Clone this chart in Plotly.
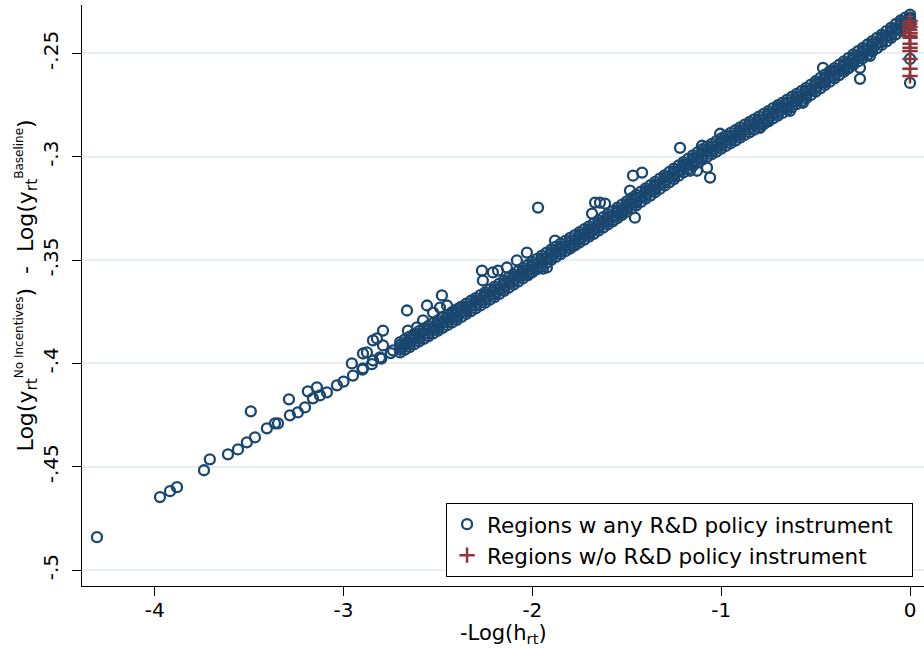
import plotly.graph_objects as go

# ---------------- data ----------------
# dense central band, centre row (grid A)
band_x_a = [-3.00, -2.95, -2.90, -2.85, -2.80, -2.75, -2.70, -2.65, -2.60, -2.55,
            -2.50, -2.45, -2.40, -2.35, -2.30, -2.25, -2.20, -2.15, -2.10, -2.05,
            -2.00, -1.95, -1.90, -1.85, -1.80, -1.75, -1.70, -1.65, -1.60, -1.55,
            -1.50, -1.45, -1.40, -1.35, -1.30, -1.25, -1.20, -1.15, -1.10, -1.05,
            -1.00, -0.95, -0.90, -0.85, -0.80, -0.75, -0.70, -0.65, -0.60, -0.55,
            -0.50, -0.45, -0.40, -0.35, -0.30, -0.25, -0.20, -0.15, -0.10, -0.05, 0.00]
band_y_a_mid = [-0.4088, -0.4059, -0.4030, -0.4004, -0.3977, -0.3950, -0.3922, -0.3896, -0.3869, -0.3843,
                -0.3817, -0.3790, -0.3764, -0.3736, -0.3709, -0.3681, -0.3654, -0.3624, -0.3594, -0.3564,
                -0.3534, -0.3504, -0.3474, -0.3446, -0.3418, -0.3390, -0.3362, -0.3333, -0.3303, -0.3272,
                -0.3241, -0.3210, -0.3178, -0.3147, -0.3115, -0.3083, -0.3051, -0.3019, -0.2989, -0.2963,
                -0.2936, -0.2910, -0.2883, -0.2857, -0.2831, -0.2804, -0.2776, -0.2749, -0.2721, -0.2692,
                -0.2660, -0.2628, -0.2596, -0.2564, -0.2530, -0.2498, -0.2466, -0.2434, -0.2400, -0.2366, -0.2338]

# dense band, edge and inner rows on grid A (from -2.70)
band_x_a2 = [-2.70, -2.65, -2.60, -2.55, -2.50, -2.45, -2.40, -2.35, -2.30, -2.25,
             -2.20, -2.15, -2.10, -2.05, -2.00, -1.95, -1.90, -1.85, -1.80, -1.75,
             -1.70, -1.65, -1.60, -1.55, -1.50, -1.45, -1.40, -1.35, -1.30, -1.25,
             -1.20, -1.15, -1.10, -1.05, -1.00, -0.95, -0.90, -0.85, -0.80, -0.75,
             -0.70, -0.65, -0.60, -0.55, -0.50, -0.45, -0.40, -0.35, -0.30, -0.25,
             -0.20, -0.15, -0.10, -0.05, 0.00]
band_y_a2_up = [-0.3897, -0.3871, -0.3844, -0.3818, -0.3792, -0.3765, -0.3739, -0.3711, -0.3684, -0.3656,
                -0.3629, -0.3599, -0.3569, -0.3539, -0.3509, -0.3479, -0.3449, -0.3421, -0.3393, -0.3365,
                -0.3337, -0.3308, -0.3278, -0.3247, -0.3216, -0.3185, -0.3153, -0.3122, -0.3090, -0.3058,
                -0.3026, -0.2994, -0.2964, -0.2938, -0.2911, -0.2885, -0.2858, -0.2832, -0.2806, -0.2779,
                -0.2751, -0.2724, -0.2696, -0.2667, -0.2635, -0.2603, -0.2571, -0.2539, -0.2505, -0.2473,
                -0.2441, -0.2409, -0.2375, -0.2341, -0.2313]
band_y_a2_lo = [-0.3947, -0.3921, -0.3894, -0.3868, -0.3842, -0.3815, -0.3789, -0.3761, -0.3734, -0.3706,
                -0.3679, -0.3649, -0.3619, -0.3589, -0.3559, -0.3529, -0.3499, -0.3471, -0.3443, -0.3415,
                -0.3387, -0.3358, -0.3328, -0.3297, -0.3266, -0.3235, -0.3203, -0.3172, -0.3140, -0.3108,
                -0.3076, -0.3044, -0.3014, -0.2988, -0.2961, -0.2935, -0.2908, -0.2882, -0.2856, -0.2829,
                -0.2801, -0.2774, -0.2746, -0.2717, -0.2685, -0.2653, -0.2621, -0.2589, -0.2555, -0.2523,
                -0.2491, -0.2459, -0.2425, -0.2391, -0.2363]
band_y_a2_in_up = [-0.3910, -0.3884, -0.3857, -0.3831, -0.3805, -0.3778, -0.3752, -0.3724, -0.3697, -0.3669,
                   -0.3642, -0.3612, -0.3582, -0.3552, -0.3522, -0.3492, -0.3462, -0.3434, -0.3406, -0.3378,
                   -0.3350, -0.3321, -0.3291, -0.3260, -0.3229, -0.3198, -0.3166, -0.3135, -0.3103, -0.3071,
                   -0.3039, -0.3007, -0.2977, -0.2951, -0.2924, -0.2898, -0.2871, -0.2845, -0.2819, -0.2792,
                   -0.2764, -0.2737, -0.2709, -0.2680, -0.2648, -0.2616, -0.2584, -0.2552, -0.2518, -0.2486,
                   -0.2454, -0.2422, -0.2388, -0.2354, -0.2326]
band_y_a2_in_lo = [-0.3934, -0.3908, -0.3881, -0.3855, -0.3829, -0.3802, -0.3776, -0.3748, -0.3721, -0.3693,
                   -0.3666, -0.3636, -0.3606, -0.3576, -0.3546, -0.3516, -0.3486, -0.3458, -0.3430, -0.3402,
                   -0.3374, -0.3345, -0.3315, -0.3284, -0.3253, -0.3222, -0.3190, -0.3159, -0.3127, -0.3095,
                   -0.3063, -0.3031, -0.3001, -0.2975, -0.2948, -0.2922, -0.2895, -0.2869, -0.2843, -0.2816,
                   -0.2788, -0.2761, -0.2733, -0.2704, -0.2672, -0.2640, -0.2608, -0.2576, -0.2542, -0.2510,
                   -0.2478, -0.2446, -0.2412, -0.2378, -0.2350]

# dense band on grid B (between grid A points): centre, upper, lower rows
band_x_b = [-2.675, -2.625, -2.575, -2.525, -2.475, -2.425, -2.375, -2.325, -2.275, -2.225,
            -2.175, -2.125, -2.075, -2.025, -1.975, -1.925, -1.875, -1.825, -1.775, -1.725,
            -1.675, -1.625, -1.575, -1.525, -1.475, -1.425, -1.375, -1.325, -1.275, -1.225,
            -1.175, -1.125, -1.075, -1.025, -0.975, -0.925, -0.875, -0.825, -0.775, -0.725,
            -0.675, -0.625, -0.575, -0.525, -0.475, -0.425, -0.375, -0.325, -0.275, -0.225,
            -0.175, -0.125, -0.075, -0.025]
band_y_b_mid = [-0.3909, -0.3882, -0.3856, -0.3830, -0.3803, -0.3777, -0.3750, -0.3722, -0.3695, -0.3667,
                -0.3639, -0.3609, -0.3579, -0.3549, -0.3519, -0.3489, -0.3460, -0.3432, -0.3404, -0.3376,
                -0.3348, -0.3318, -0.3288, -0.3257, -0.3226, -0.3194, -0.3163, -0.3131, -0.3099, -0.3067,
                -0.3035, -0.3004, -0.2976, -0.2950, -0.2923, -0.2897, -0.2870, -0.2844, -0.2818, -0.2790,
                -0.2763, -0.2735, -0.2707, -0.2676, -0.2644, -0.2612, -0.2580, -0.2547, -0.2514, -0.2482,
                -0.2450, -0.2417, -0.2383, -0.2352]
band_y_b_up = [-0.3884, -0.3857, -0.3831, -0.3805, -0.3778, -0.3752, -0.3725, -0.3697, -0.3670, -0.3642,
               -0.3614, -0.3584, -0.3554, -0.3524, -0.3494, -0.3464, -0.3435, -0.3407, -0.3379, -0.3351,
               -0.3323, -0.3293, -0.3263, -0.3232, -0.3201, -0.3169, -0.3138, -0.3106, -0.3074, -0.3042,
               -0.3010, -0.2979, -0.2951, -0.2925, -0.2898, -0.2872, -0.2845, -0.2819, -0.2793, -0.2765,
               -0.2738, -0.2710, -0.2682, -0.2651, -0.2619, -0.2587, -0.2555, -0.2522, -0.2489, -0.2457,
               -0.2425, -0.2392, -0.2358, -0.2327]
band_y_b_lo = [-0.3934, -0.3907, -0.3881, -0.3855, -0.3828, -0.3802, -0.3775, -0.3747, -0.3720, -0.3692,
               -0.3664, -0.3634, -0.3604, -0.3574, -0.3544, -0.3514, -0.3485, -0.3457, -0.3429, -0.3401,
               -0.3373, -0.3343, -0.3313, -0.3282, -0.3251, -0.3219, -0.3188, -0.3156, -0.3124, -0.3092,
               -0.3060, -0.3029, -0.3001, -0.2975, -0.2948, -0.2922, -0.2895, -0.2869, -0.2843, -0.2815,
               -0.2788, -0.2760, -0.2732, -0.2701, -0.2669, -0.2637, -0.2605, -0.2572, -0.2539, -0.2507,
               -0.2475, -0.2442, -0.2408, -0.2377]

# scattered / off-band regions with instruments
scatter_x = [-4.306, -3.972, -3.919, -3.882, -3.739, -3.708, -3.612, -3.559, -3.512, -3.491,
             -3.469, -3.406, -3.363, -3.347, -3.289, -3.284, -3.242, -3.204, -3.189, -3.141,
             -3.162, -3.125, -3.088, -3.035, -2.956, -2.897, -2.897, -2.876, -2.844, -2.823,
             -2.791, -2.791, -2.807, -2.844, -2.738, -2.664, -2.664, -2.659, -2.611, -2.579,
             -2.558, -2.526, -2.489, -2.479, -2.452, -2.421, -2.383, -2.267, -2.262, -2.209,
             -2.182, -2.135, -2.082, -2.029, -2.013, -1.944, -1.923, -1.970, -1.880, -1.801,
             -1.785, -1.695, -1.684, -1.668, -1.642, -1.615, -1.573, -1.525, -1.457, -1.467,
             -1.419, -1.483, -1.218, -1.102, -1.075, -1.059, -1.128, -1.165, -1.006, -0.794,
             -0.757, -0.636, -0.567, -0.461, -0.334, -0.265, -0.265, -0.212, 0.000, 0.000, 0.000]
scatter_y = [-0.4841, -0.4647, -0.4618, -0.4599, -0.4517, -0.4464, -0.4440, -0.4416, -0.4382, -0.4232,
             -0.4358, -0.4314, -0.4290, -0.4290, -0.4174, -0.4251, -0.4237, -0.4213, -0.4135, -0.4116,
             -0.4169, -0.4155, -0.4140, -0.4106, -0.4000, -0.4024, -0.3952, -0.3947, -0.3889, -0.3879,
             -0.3841, -0.3913, -0.3971, -0.3986, -0.3937, -0.3899, -0.3744, -0.3841, -0.3826, -0.3792,
             -0.3720, -0.3754, -0.3730, -0.3671, -0.3720, -0.3758, -0.3730, -0.3551, -0.3599, -0.3560,
             -0.3551, -0.3536, -0.3502, -0.3464, -0.3565, -0.3541, -0.3536, -0.3246, -0.3406, -0.3444,
             -0.3430, -0.3372, -0.3275, -0.3222, -0.3222, -0.3227, -0.3309, -0.3271, -0.3295, -0.3092,
             -0.3077, -0.3164, -0.2957, -0.2947, -0.3053, -0.3101, -0.3068, -0.3068, -0.2889, -0.2860,
             -0.2826, -0.2778, -0.2739, -0.2570, -0.2575, -0.2570, -0.2623, -0.2512, -0.2527, -0.2643, -0.2330]

# regions without any R&D policy instrument (all at -Log(h) = 0)
noinst_x = [0.000, -0.002, 0.000, -0.002, 0.000, -0.002, 0.000, 0.000, 0.000, 0.000, 0.000, 0.000, 0.000]
noinst_y = [-0.2343, -0.2357, -0.2372, -0.2386, -0.2401, -0.2415, -0.2425, -0.2454, -0.2473, -0.2488,
            -0.2527, -0.2575, -0.2609]

x_ticks = [-4, -3, -2, -1, 0]
x_tick_text = ["-4", "-3", "-2", "-1", "0"]
y_ticks = [-0.5, -0.45, -0.4, -0.35, -0.3, -0.25]
y_tick_text = ["-.5", "-.45", "-.4", "-.35", "-.3", "-.25"]

# ---------------- figure ----------------
NAVY = "#1a476f"
MAROON = "#90353b"
FONT = "DejaVu Sans"
PAD = "\u00a0\u00a0"  # trailing space inside the legend box

inst_x = (scatter_x + band_x_a + band_x_a2 + band_x_a2 + band_x_a2 + band_x_a2
          + band_x_b + band_x_b + band_x_b)
inst_y = (scatter_y + band_y_a_mid + band_y_a2_up + band_y_a2_lo + band_y_a2_in_up + band_y_a2_in_lo
          + band_y_b_mid + band_y_b_up + band_y_b_lo)

fig = go.Figure()
fig.add_trace(go.Scatter(
    x=inst_x, y=inst_y, mode="markers",
    name="Regions w any R&D policy instrument" + PAD,
    marker=dict(symbol="circle-open", size=10, color=NAVY, line=dict(width=2.3, color=NAVY)),
))
fig.add_trace(go.Scatter(
    x=noinst_x, y=noinst_y, mode="markers",
    name="Regions w/o R&D policy instrument",
    marker=dict(symbol="cross-thin", size=11, color=MAROON, line=dict(width=2.5, color=MAROON)),
))

fig.update_layout(
    width=924, height=657,
    margin=dict(l=82, r=0, t=5, b=71),
    paper_bgcolor="white", plot_bgcolor="white",
    font=dict(family=FONT, size=20, color="black"),
    showlegend=True,
    legend=dict(
        x=0.987, y=0.016, xanchor="right", yanchor="bottom",
        bgcolor="white", bordercolor="black", borderwidth=1,
        font=dict(family=FONT, size=21.5, color="black"),
        tracegroupgap=0,
    ),
    xaxis=dict(
        range=[-4.385, 0.074], tickmode="array", tickvals=x_ticks, ticktext=x_tick_text,
        ticks="outside", ticklen=9, tickwidth=1.3, tickcolor="black",
        showline=True, linecolor="black", linewidth=1.3,
        showgrid=False, zeroline=False, ticklabelstandoff=-3,
        tickfont=dict(family=FONT, size=20, color="black"),
    ),
    yaxis=dict(
        range=[-0.5077, -0.2266], tickmode="array", tickvals=y_ticks, ticktext=y_tick_text,
        tickangle=-90,
        ticks="outside", ticklen=9, tickwidth=1.3, tickcolor="black",
        showline=True, linecolor="black", linewidth=1.3,
        showgrid=True, gridcolor="#e8eff2", gridwidth=1.5,
        zeroline=False, ticklabelstandoff=6,
        tickfont=dict(family=FONT, size=20, color="black"),
    ),
    annotations=[
        dict(text="-Log(h<sub>rt</sub>)", xref="paper", yref="paper", x=0.5, y=-0.082,
             xanchor="center", yanchor="middle", showarrow=False,
             font=dict(family=FONT, size=21, color="black")),
        dict(text="Log(y<sub>rt</sub><sup><span style='font-size:12px'>No Incentives</span></sup>)"
                  "\u00a0\u00a0-\u00a0\u00a0Log(y<sub>rt</sub><sup><span style='font-size:12px'>Baseline</span></sup>)",
             xref="paper", yref="paper", x=-0.066, y=0.518, textangle=-90,
             xanchor="center", yanchor="middle", showarrow=False,
             font=dict(family=FONT, size=22, color="black")),
    ],
)

fig.write_html("out.html",
               config={"displayModeBar": False},
               post_script="document.body.style.margin='0';document.body.style.overflow='hidden';")
